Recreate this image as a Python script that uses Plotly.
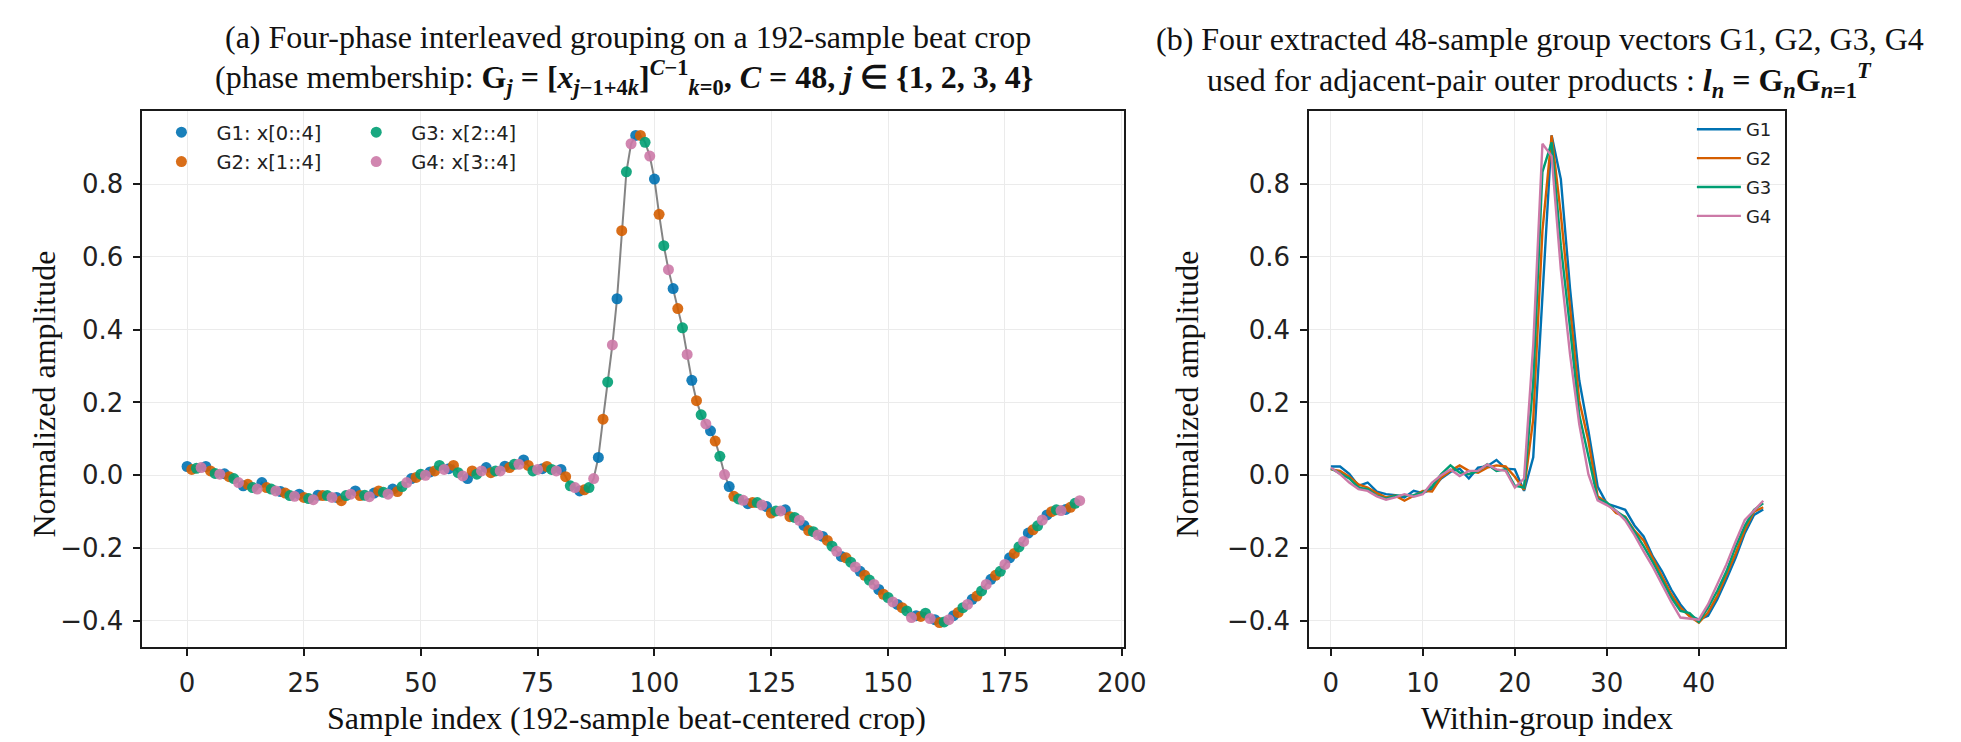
import plotly.graph_objects as go

# ---- data ----
# four interleaved phase groups: G1 = x[0::4], G2 = x[1::4], G3 = x[2::4], G4 = x[3::4]
g1 = [0.024, 0.024, 0.004, -0.029, -0.020, -0.045, -0.052, -0.055, -0.061, -0.043, -0.049, -0.038,
      -0.009, 0.009, 0.018, -0.009, 0.021, 0.025, 0.042, 0.018, 0.016, -0.043, 0.049, 0.485,
      0.934, 0.814, 0.513, 0.261, 0.122, -0.031, -0.078, -0.086, -0.095, -0.138, -0.168, -0.223,
      -0.264, -0.314, -0.355, -0.386, -0.397, -0.386, -0.341, -0.286, -0.227, -0.159, -0.109, -0.094]
g2 = [0.016, 0.012, -0.004, -0.025, -0.034, -0.049, -0.061, -0.056, -0.070, -0.056, -0.043, -0.045,
      -0.006, 0.012, 0.027, 0.012, 0.007, 0.021, 0.027, 0.024, -0.004, -0.040, 0.154, 0.672,
      0.934, 0.717, 0.458, 0.205, 0.094, -0.058, -0.075, -0.104, -0.114, -0.152, -0.179, -0.227,
      -0.275, -0.327, -0.364, -0.388, -0.405, -0.377, -0.332, -0.275, -0.215, -0.150, -0.100, -0.088]
g3 = [0.019, 0.005, -0.009, -0.034, -0.038, -0.056, -0.064, -0.056, -0.056, -0.055, -0.047, -0.031,
      0.003, 0.027, 0.007, 0.003, 0.012, 0.030, 0.012, 0.016, -0.029, -0.034, 0.256, 0.834,
      0.915, 0.631, 0.405, 0.166, 0.052, -0.065, -0.075, -0.098, -0.116, -0.155, -0.195, -0.239,
      -0.288, -0.336, -0.373, -0.379, -0.403, -0.364, -0.318, -0.264, -0.197, -0.139, -0.095, -0.077]
g4 = [0.021, 0.003, -0.020, -0.038, -0.043, -0.058, -0.067, -0.061, -0.052, -0.059, -0.052, -0.020,
      0.000, 0.016, -0.002, 0.012, 0.012, 0.030, 0.016, 0.012, -0.034, -0.009, 0.358, 0.911,
      0.877, 0.565, 0.332, 0.141, 0.002, -0.069, -0.082, -0.098, -0.124, -0.164, -0.209, -0.252,
      -0.300, -0.348, -0.391, -0.394, -0.397, -0.355, -0.300, -0.245, -0.182, -0.123, -0.097, -0.070]

groups = [g1, g2, g3, g4]
group_names = ["G1", "G2", "G3", "G4"]
legend_labels = ["G1: x[0::4]", "G2: x[1::4]", "G3: x[2::4]", "G4: x[3::4]"]
colors = ["#0072B2", "#D55E00", "#009E73", "#CC79A7"]

C = len(g1)
n_samples = 4 * C
beat = [groups[i % 4][i // 4] for i in range(n_samples)]
sample_idx = list(range(n_samples))
within_idx = list(range(C))

x_ticks_a = [0, 25, 50, 75, 100, 125, 150, 175, 200]
x_ticks_b = [0, 10, 20, 30, 40]
y_ticks = [-0.4, -0.2, 0.0, 0.2, 0.4, 0.6, 0.8]

# ---- figure ----
W, H = 1961, 742
fig = go.Figure()

fig.add_trace(go.Scatter(x=sample_idx, y=beat, mode="lines",
                         line=dict(color="rgba(110,110,110,0.85)", width=2),
                         showlegend=False, hoverinfo="skip", xaxis="x", yaxis="y"))

legs = ["legend", "legend", "legend2", "legend2"]
for j in range(4):
    xs = sample_idx[j::4]
    ys = beat[j::4]
    fig.add_trace(go.Scatter(x=xs, y=ys, mode="markers", name=legend_labels[j],
                             marker=dict(color=colors[j], size=11, opacity=0.9, line=dict(width=0)),
                             legend=legs[j], legendgroup="a%d" % j,
                             xaxis="x", yaxis="y"))

for j in range(4):
    fig.add_trace(go.Scatter(x=within_idx, y=groups[j], mode="lines", name=group_names[j],
                             line=dict(color=colors[j], width=2.4),
                             legend="legend3", legendgroup="b%d" % j,
                             xaxis="x2", yaxis="y2"))


def px_x(p):
    return p / W


def px_y(p):
    return 1 - p / H


axis_common = dict(showline=True, linecolor="#1a1a1a", linewidth=2, mirror=True,
                   ticks="outside", ticklen=7, tickwidth=1.5, tickcolor="#1a1a1a",
                   showgrid=True, gridcolor="#ebebeb", gridwidth=1, zeroline=False,
                   tickfont=dict(family="DejaVu Sans", size=26, color="#222222"),
                   ticklabelstandoff=5)

fig.update_layout(
    width=W, height=H,
    margin=dict(l=0, r=0, t=0, b=0),
    paper_bgcolor="white", plot_bgcolor="white",
    xaxis=dict(domain=[px_x(136), px_x(1129)], range=[-9.55, 200.55],
               tickvals=x_ticks_a, anchor="y", **axis_common),
    yaxis=dict(domain=[px_y(639), px_y(103)], range=[-0.472, 1.001],
               tickvals=y_ticks, tickformat=".1f", anchor="x", **axis_common),
    xaxis2=dict(domain=[px_x(1316), px_x(1797)], range=[-2.35, 49.35],
                tickvals=x_ticks_b, anchor="y2", **axis_common),
    yaxis2=dict(domain=[px_y(639), px_y(103)], range=[-0.472, 1.001],
                tickvals=y_ticks, tickformat=".1f", anchor="x2", **axis_common),
    legend=dict(x=px_x(140), y=px_y(105), xanchor="left", yanchor="top",
                bgcolor="rgba(0,0,0,0)", itemwidth=60, tracegroupgap=1,
                font=dict(family="DejaVu Sans", size=19.5, color="#222222")),
    legend2=dict(x=px_x(337), y=px_y(105), xanchor="left", yanchor="top",
                 bgcolor="rgba(0,0,0,0)", itemwidth=60, tracegroupgap=1,
                 font=dict(family="DejaVu Sans", size=19.5, color="#222222")),
    legend3=dict(x=px_x(1703), y=px_y(103), xanchor="left", yanchor="top",
                 bgcolor="rgba(0,0,0,0)", itemwidth=44, tracegroupgap=2.5,
                 font=dict(family="DejaVu Sans", size=18, color="#222222")),
)

serif = "Liberation Serif"
title_font = dict(family=serif, size=32, color="#111111")
label_font = dict(family=serif, size=32, color="#111111")

annotations = [
    dict(text="(a) Four-phase interleaved grouping on a 192-sample beat crop",
         x=px_x(627), y=px_y(29), font=title_font),
    dict(text="(phase membership: <b>G<sub><i>j</i></sub> = [<i>x</i><sub><i>j</i>−1+4<i>k</i></sub>]"
              "<sup><i>C</i>−1</sup><sub><i>k</i>=0</sub>, <i>C</i> = 48, <i>j</i> ∈ {1, 2, 3, 4}</b>",
         x=px_x(623), y=px_y(70), font=title_font),
    dict(text="(b) Four extracted 48-sample group vectors G1, G2, G3, G4",
         x=px_x(1549), y=px_y(31), font=title_font),
    dict(text="used for adjacent-pair outer products : <b><i>l<sub>n</sub></i> = G<sub><i>n</i></sub>"
              "G<sub><i>n</i>=1</sub><sup><i>T</i></sup></b>",
         x=px_x(1549), y=px_y(72), font=title_font),
    dict(text="Sample index (192-sample beat-centered crop)", x=px_x(626), y=px_y(710), font=label_font),
    dict(text="Normalized amplitude", x=px_x(36), y=px_y(386), textangle=-90, font=label_font),
    dict(text="Within-group index", x=px_x(1556), y=px_y(710), font=label_font),
    dict(text="Normalized amplitude", x=px_x(1192), y=px_y(386), textangle=-90, font=label_font),
]
for a in annotations:
    a.update(xref="paper", yref="paper", xanchor="center", yanchor="middle", showarrow=False)
fig.update_layout(annotations=annotations)

fig.write_html("out.html")
